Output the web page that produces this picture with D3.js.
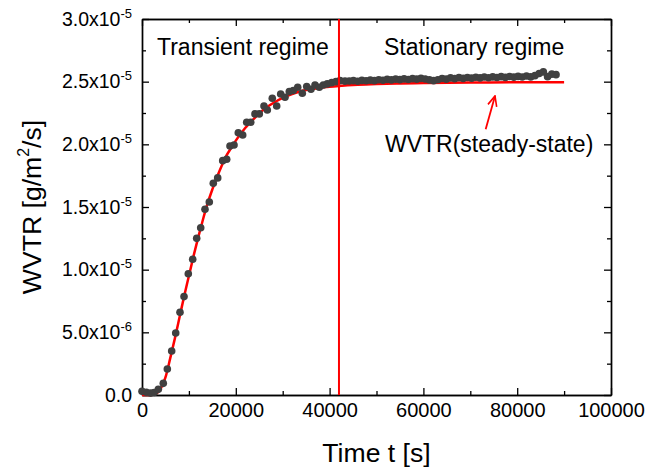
<!DOCTYPE html>
<html>
<head>
<meta charset="utf-8">
<script src="https://cdn.jsdelivr.net/npm/d3@7"></script>
<style>
  body { margin: 0; background: #fff; }
  svg { display: block; font-family: "Liberation Sans", Arial, sans-serif; }
</style>
</head>
<body>
<svg id="chart" width="645" height="471"></svg>
<script>
// measured points, WVTR in units of 1e-5 g/m^2/s
const timeS = [
  0, 920, 1840, 2600, 3480, 4540, 5400, 6330, 7190, 8100,
  8960, 9870, 10810, 11660, 12520, 13430, 14350, 15200, 16140, 17210,
  18060, 18760, 19620, 20530, 21470, 22320, 23180, 24090, 25010, 26010,
  26720, 27780, 28720, 29570, 30490, 31410, 32260, 33200, 34180, 35120,
  36030, 36890, 37800, 38660, 39510, 40450, 41360, 42220, 43280,
  44180, 45080, 45980, 46880, 47780, 48680, 49580, 50480, 51380, 52280,
  53180, 54080, 54980, 55880, 56780, 57680, 58580, 59480, 60380, 61280,
  62180, 63080, 63980, 64880, 65780, 66680, 67580, 68480, 69380, 70280,
  71180, 72080, 72980, 73880, 74780, 75680, 76580, 77480, 78380, 79280,
  80180, 81080, 81980, 82880, 83780, 84680, 85580, 86480, 87380, 88280
];
const wvtrE5 = [
  0.030, 0.022, 0.015, 0.020, 0.045, 0.093, 0.207, 0.351, 0.495, 0.660,
  0.785, 0.968, 1.083, 1.250, 1.335, 1.482, 1.540, 1.690, 1.732, 1.870,
  1.881, 1.987, 1.995, 2.093, 2.075, 2.176, 2.176, 2.243, 2.243, 2.306,
  2.274, 2.368, 2.306, 2.402, 2.376, 2.421, 2.429, 2.456, 2.408, 2.461,
  2.440, 2.474, 2.456, 2.474, 2.482, 2.492, 2.500, 2.508, 2.504,
  2.505, 2.508, 2.503, 2.510, 2.507, 2.512, 2.508, 2.515, 2.511, 2.518,
  2.514, 2.520, 2.516, 2.522, 2.517, 2.524, 2.520, 2.526, 2.521, 2.514,
  2.508, 2.515, 2.525, 2.520, 2.530, 2.524, 2.532, 2.526, 2.533, 2.528,
  2.535, 2.530, 2.537, 2.531, 2.538, 2.533, 2.540, 2.534, 2.541, 2.536,
  2.542, 2.537, 2.545, 2.538, 2.548, 2.565, 2.578, 2.540, 2.560, 2.556
];

// fitted curve
const fitTimeS = [
  0, 2000, 3000, 4000, 5000, 6000, 7000, 8000, 9000, 10000,
  11000, 12000, 13000, 14000, 15000, 16000, 17000, 18000, 19000, 20000,
  22000, 24000, 26000, 28000, 30000, 32000, 34000, 36000, 38000, 40000,
  42000, 46000, 50000, 55000, 60000, 70000, 80000, 90000
];
const fitWvtrE5 = [
  0.0, 0.0, 0.01, 0.05, 0.14, 0.29, 0.45, 0.62, 0.79, 0.95,
  1.11, 1.26, 1.40, 1.53, 1.64, 1.74, 1.83, 1.91, 1.97, 2.03,
  2.13, 2.21, 2.28, 2.33, 2.37, 2.40, 2.425, 2.44, 2.452, 2.46,
  2.466, 2.475, 2.481, 2.486, 2.489, 2.493, 2.495, 2.496
];

const regimeBoundaryS = 42000;
const arrowFrom = [73280, 2.12];
const arrowTo = [75270, 2.386];

const xTicks = [0, 20000, 40000, 60000, 80000, 100000];
const xMinorTicks = [10000, 30000, 50000, 70000, 90000];
const yTicks = [0, 0.5, 1.0, 1.5, 2.0, 2.5, 3.0];
const yMinorTicks = [0.25, 0.75, 1.25, 1.75, 2.25, 2.75];
const yTickMantissa = ["0.0", "5.0", "1.0", "1.5", "2.0", "2.5", "3.0"];
const yTickExponent = [null, "-6", "-5", "-5", "-5", "-5", "-5"];

const plotLeft = 142, plotRight = 611, plotTop = 19, plotBottom = 395;
const svg = d3.select("#chart");

const x = d3.scaleLinear().domain([0, 100000]).range([plotLeft, plotRight]);
const y = d3.scaleLinear().domain([0, 3]).range([plotBottom, plotTop]);

function styleAxis(g) {
  g.attr("font-family", null);
  g.select(".domain").attr("stroke", "#000").attr("stroke-width", 1.4);
  g.selectAll(".tick line").attr("stroke", "#000").attr("stroke-width", 1.3);
}

// major + minor ticks on all four sides, pointing inward
const bottomAxis = svg.append("g")
  .attr("transform", `translate(0,${plotBottom})`)
  .call(d3.axisBottom(x).tickValues(xTicks).tickSizeInner(-7).tickSizeOuter(0).tickPadding(8).tickFormat(d3.format("d")))
  .call(styleAxis);
bottomAxis.selectAll("text").attr("font-size", 20).attr("fill", "#000");
svg.append("g").attr("transform", `translate(0,${plotBottom})`)
  .call(d3.axisBottom(x).tickValues(xMinorTicks).tickSizeInner(-4).tickSizeOuter(0).tickFormat(""))
  .call(styleAxis);

svg.append("g").attr("transform", `translate(0,${plotTop})`)
  .call(d3.axisTop(x).tickValues(xTicks).tickSizeInner(-7).tickSizeOuter(0).tickFormat(""))
  .call(styleAxis);
svg.append("g").attr("transform", `translate(0,${plotTop})`)
  .call(d3.axisTop(x).tickValues(xMinorTicks).tickSizeInner(-4).tickSizeOuter(0).tickFormat(""))
  .call(styleAxis);

const leftAxis = svg.append("g")
  .attr("transform", `translate(${plotLeft},0)`)
  .call(d3.axisLeft(y).tickValues(yTicks).tickSizeInner(-7).tickSizeOuter(0).tickPadding(10).tickFormat(""))
  .call(styleAxis);
leftAxis.selectAll(".tick text").each(function (d, i) {
  const t = d3.select(this).attr("font-size", 19.5).attr("fill", "#000");
  t.append("tspan").text(yTickMantissa[i] + (yTickExponent[i] ? "x10" : ""));
  if (yTickExponent[i]) {
    t.append("tspan").attr("font-size", 13).attr("dy", "-0.62em").text(yTickExponent[i]);
  }
});
svg.append("g").attr("transform", `translate(${plotLeft},0)`)
  .call(d3.axisLeft(y).tickValues(yMinorTicks).tickSizeInner(-4).tickSizeOuter(0).tickFormat(""))
  .call(styleAxis);

svg.append("g").attr("transform", `translate(${plotRight},0)`)
  .call(d3.axisRight(y).tickValues(yTicks).tickSizeInner(-7).tickSizeOuter(0).tickFormat(""))
  .call(styleAxis);
svg.append("g").attr("transform", `translate(${plotRight},0)`)
  .call(d3.axisRight(y).tickValues(yMinorTicks).tickSizeInner(-4).tickSizeOuter(0).tickFormat(""))
  .call(styleAxis);

// fit line
const fitData = fitTimeS.map((t, i) => [t, fitWvtrE5[i]]);
svg.append("path")
  .datum(fitData)
  .attr("fill", "none")
  .attr("stroke", "#ff0000")
  .attr("stroke-width", 2.5)
  .attr("d", d3.line().x(d => x(d[0])).y(d => y(d[1])).curve(d3.curveMonotoneX));

// measured points
svg.append("g").selectAll("circle")
  .data(timeS.map((t, i) => [t, wvtrE5[i]]))
  .join("circle")
  .attr("cx", d => x(d[0]))
  .attr("cy", d => y(d[1]))
  .attr("r", 3.8)
  .attr("fill", "#404040");

// regime boundary
svg.append("line")
  .attr("x1", x(regimeBoundaryS)).attr("x2", x(regimeBoundaryS))
  .attr("y1", y(3)).attr("y2", y(0))
  .attr("stroke", "#ff0000")
  .attr("stroke-width", 2);

// arrow to steady-state line
svg.append("defs").append("marker")
  .attr("id", "head")
  .attr("viewBox", "0 0 12 12")
  .attr("refX", 11).attr("refY", 6)
  .attr("markerWidth", 12).attr("markerHeight", 12)
  .attr("markerUnits", "userSpaceOnUse")
  .attr("orient", "auto")
  .append("path")
  .attr("d", "M1,1.5 L11,6 L1,10.5")
  .attr("fill", "none")
  .attr("stroke", "#ff0000")
  .attr("stroke-width", 1.6);

svg.append("line")
  .attr("x1", x(arrowFrom[0])).attr("y1", y(arrowFrom[1]))
  .attr("x2", x(arrowTo[0])).attr("y2", y(arrowTo[1]))
  .attr("stroke", "#ff0000")
  .attr("stroke-width", 1.8)
  .attr("marker-end", "url(#head)");

// annotations
svg.append("text").attr("x", 157).attr("y", 55).attr("font-size", 23).text("Transient regime");
svg.append("text").attr("x", 384).attr("y", 55).attr("font-size", 23).text("Stationary regime");
svg.append("text").attr("x", 385).attr("y", 152).attr("font-size", 23).text("WVTR(steady-state)");

// axis titles
svg.append("text")
  .attr("x", (plotLeft + plotRight) / 2).attr("y", 462)
  .attr("text-anchor", "middle")
  .attr("font-size", 26.6)
  .text("Time t [s]");

const yTitle = svg.append("text")
  .attr("transform", `translate(40.5,${(plotTop + plotBottom) / 2}) rotate(-90)`)
  .attr("text-anchor", "middle")
  .attr("font-size", 26.6);
yTitle.append("tspan").text("WVTR [g/m");
yTitle.append("tspan").attr("font-size", 16).attr("dy", "-0.7em").text("2");
yTitle.append("tspan").attr("dy", "0.45em").text("/s]");
</script>
</body>
</html>
